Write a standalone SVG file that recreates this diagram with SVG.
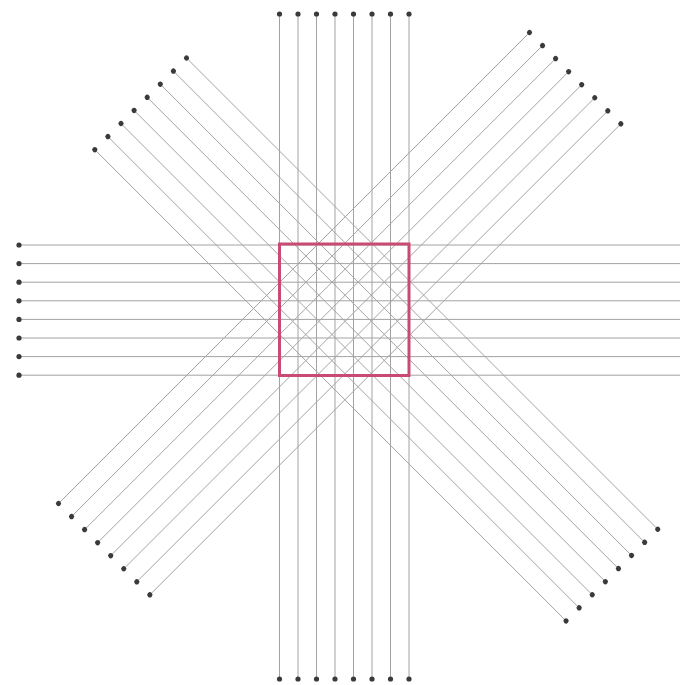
<svg xmlns="http://www.w3.org/2000/svg" width="680" height="685" viewBox="0 0 680 685">
<style>
.ray{stroke:#a3a3a3;stroke-width:1;fill:none}
.both{marker-start:url(#dot);marker-end:url(#dot)}
.start{marker-start:url(#dot)}
.box{fill:none;stroke:#c94a72;stroke-width:3}
</style>
<defs>
<marker id="dot" markerUnits="userSpaceOnUse" markerWidth="8" markerHeight="8" refX="4" refY="4" orient="auto">
<circle cx="4" cy="4" r="2.6" fill="#3a3a3a"/>
</marker>
</defs>
<rect width="680" height="685" fill="#ffffff"/>
<g id="connectors">
<g id="vertical">
<line class="ray both" x1="279.5" y1="14" x2="279.5" y2="679"/>
<line class="ray both" x1="298" y1="14" x2="298" y2="679"/>
<line class="ray both" x1="316.5" y1="14" x2="316.5" y2="679"/>
<line class="ray both" x1="335" y1="14" x2="335" y2="679"/>
<line class="ray both" x1="353.5" y1="14" x2="353.5" y2="679"/>
<line class="ray both" x1="372" y1="14" x2="372" y2="679"/>
<line class="ray both" x1="390.5" y1="14" x2="390.5" y2="679"/>
<line class="ray both" x1="409" y1="14" x2="409" y2="679"/>
</g>
<g id="horizontal">
<line class="ray start" x1="19" y1="245" x2="690" y2="245"/>
<line class="ray start" x1="19" y1="263.6" x2="690" y2="263.6"/>
<line class="ray start" x1="19" y1="282.2" x2="690" y2="282.2"/>
<line class="ray start" x1="19" y1="300.8" x2="690" y2="300.8"/>
<line class="ray start" x1="19" y1="319.4" x2="690" y2="319.4"/>
<line class="ray start" x1="19" y1="338" x2="690" y2="338"/>
<line class="ray start" x1="19" y1="356.6" x2="690" y2="356.6"/>
<line class="ray start" x1="19" y1="375.2" x2="690" y2="375.2"/>
</g>
<g id="diagonal-ne-sw">
<line class="ray both" x1="529.5" y1="32.5" x2="58.5" y2="503.5"/>
<line class="ray both" x1="542.55" y1="45.55" x2="71.55" y2="516.55"/>
<line class="ray both" x1="555.6" y1="58.6" x2="84.6" y2="529.6"/>
<line class="ray both" x1="568.65" y1="71.65" x2="97.65" y2="542.65"/>
<line class="ray both" x1="581.7" y1="84.7" x2="110.7" y2="555.7"/>
<line class="ray both" x1="594.75" y1="97.75" x2="123.75" y2="568.75"/>
<line class="ray both" x1="607.8" y1="110.8" x2="136.8" y2="581.8"/>
<line class="ray both" x1="620.85" y1="123.85" x2="149.85" y2="594.85"/>
</g>
<g id="diagonal-nw-se">
<line class="ray both" x1="186.5" y1="58" x2="657.75" y2="529.25"/>
<line class="ray both" x1="173.4" y1="71.1" x2="644.65" y2="542.35"/>
<line class="ray both" x1="160.3" y1="84.2" x2="631.55" y2="555.45"/>
<line class="ray both" x1="147.2" y1="97.3" x2="618.45" y2="568.55"/>
<line class="ray both" x1="134.1" y1="110.4" x2="605.35" y2="581.65"/>
<line class="ray both" x1="121" y1="123.5" x2="592.25" y2="594.75"/>
<line class="ray both" x1="107.9" y1="136.6" x2="579.15" y2="607.85"/>
<line class="ray both" x1="94.8" y1="149.7" x2="566.05" y2="620.95"/>
</g>
</g>
<g id="square">
<rect class="box" x="279.5" y="244" width="129.5" height="131.5"/>
</g>
</svg>
